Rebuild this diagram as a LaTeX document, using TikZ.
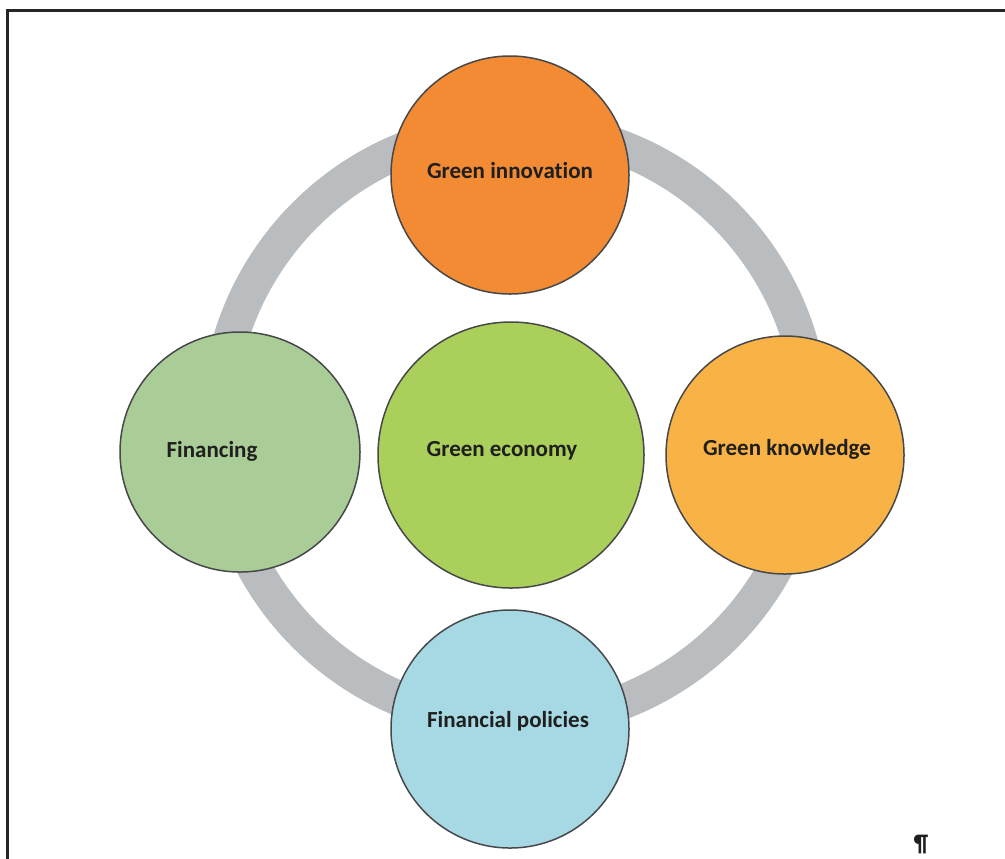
\documentclass[tikz,border=0pt]{standalone}
\usepackage{fontspec}
\setmainfont{Carlito}[Ligatures=NoCommon]
\usepackage{tikz}
\definecolor{ringgray}{RGB}{185,189,192}
\definecolor{ballline}{RGB}{70,72,74}
\definecolor{innofill}{RGB}{242,139,52}
\definecolor{finfill}{RGB}{170,204,150}
\definecolor{econfill}{RGB}{170,207,90}
\definecolor{knowfill}{RGB}{248,178,70}
\definecolor{polifill}{RGB}{167,217,228}

\begin{document}
\begin{tikzpicture}[x=0.5pt,y=-0.5pt,
  ball/.style={circle,draw=ballline,line width=0.75pt,inner sep=0pt},
  tag/.style={anchor=base,inner sep=0pt,text=black!88,
    font=\fontsize{11.5}{13}\selectfont\bfseries}]
\useasboundingbox (0,0) rectangle (1005,858);
\draw [black!85,line width=1.5pt] (7,870) -- (7,10) -- (1015,10);
\draw [ringgray,line width=17.5pt] (515,425) circle (297);
\node [ball,fill=innofill,minimum size=119pt] (inno) at (510,175) {};
\node [ball,fill=finfill,minimum size=120pt] (fin) at (240,452) {};
\node [ball,fill=econfill,minimum size=133pt] (econ) at (511,455) {};
\node [ball,fill=knowfill,minimum size=119pt] (know) at (785,455) {};
\node [ball,fill=polifill,minimum size=119pt] (poli) at (510,729) {};
\node [tag] (inno-t) at (510,178) {Green innovation};
\node [tag] (fin-t) at (212,457) {Financing};
\node [tag] (econ-t) at (502,456) {Green economy};
\node [tag] (know-t) at (787,455) {Green knowledge};
\node [tag] (poli-t) at (508,727) {Financial policies};
\node [tag,font=\fontsize{12}{12}\selectfont\bfseries] (mark) at (921,851) {¶};
\end{tikzpicture}
\end{document}
